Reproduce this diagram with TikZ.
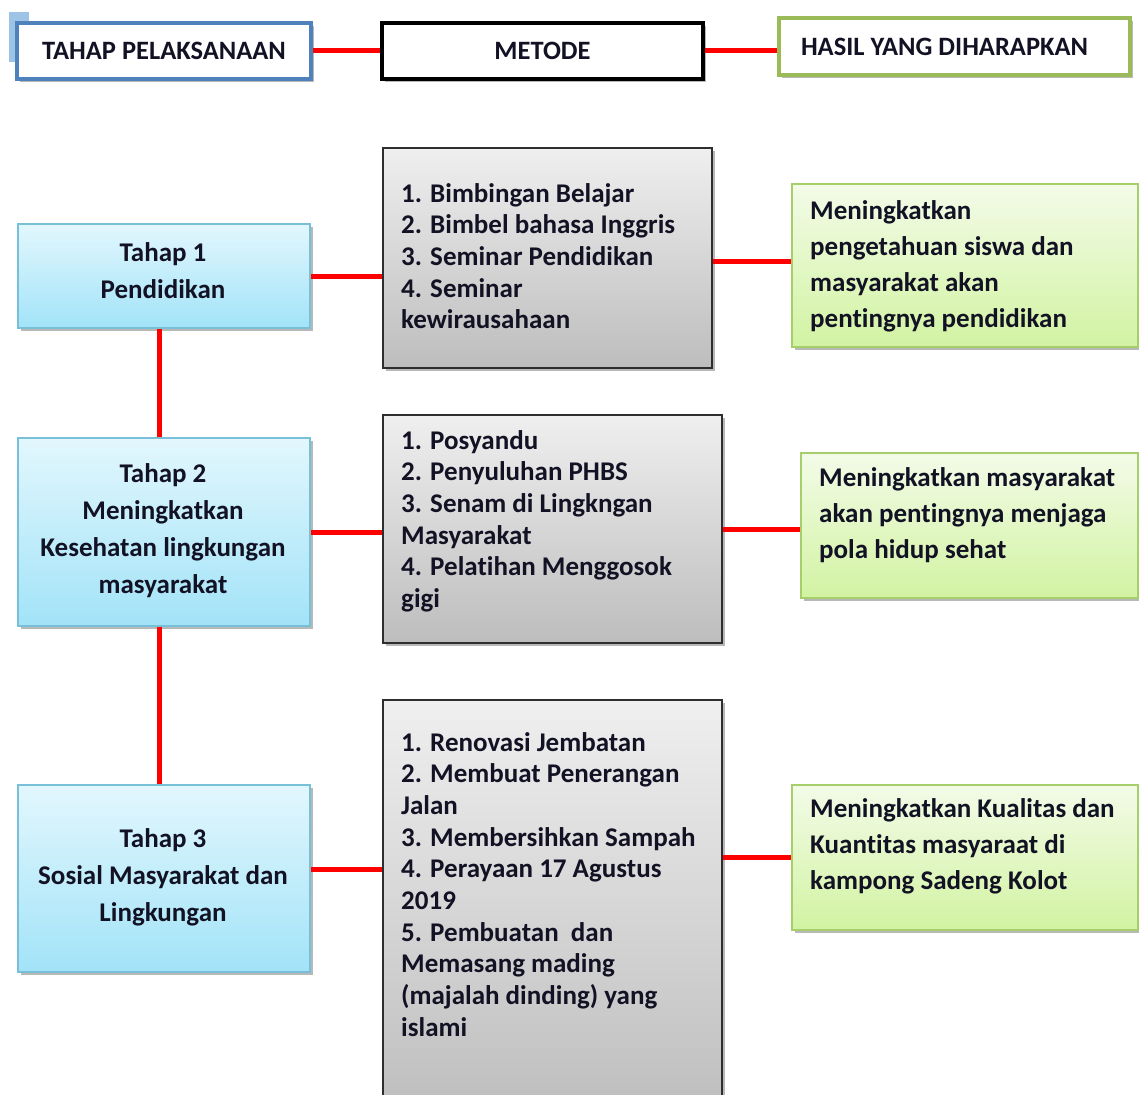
\documentclass[tikz,border=0pt]{standalone}
\usepackage{fontspec}
\setmainfont{Carlito}[Ligatures=NoCommon]
\usetikzlibrary{shadows,calc}
\definecolor{hblue}{HTML}{4F81BD}
\definecolor{hgreen}{HTML}{9BBB59}
\definecolor{sq}{HTML}{9DC3E6}
\definecolor{tTop}{HTML}{E2F7FD}
\definecolor{tBot}{HTML}{A2E3F8}
\definecolor{tLine}{HTML}{78C0D8}
\definecolor{mTop}{HTML}{EFEFEF}
\definecolor{mBot}{HTML}{BDBDBD}
\definecolor{mLine}{HTML}{2E2E2E}
\definecolor{rTop}{HTML}{F3FBE8}
\definecolor{rBot}{HTML}{D2F3A2}
\definecolor{rLine}{HTML}{A6CF6C}
\definecolor{ink}{HTML}{121224}
\definecolor{linkred}{HTML}{FF0000}
\begin{document}
\begin{tikzpicture}[x=1pt,y=-1pt,
  every node/.style={text=ink},
  boxshadow/.style={drop shadow={shadow xshift=3pt,shadow yshift=-3pt,opacity=0.28,fill=black}},
  head/.style={draw, line width=4.5pt, fill=white, inner sep=0pt, font=\fontsize{26.5}{30}\selectfont\bfseries, boxshadow},
  tahap/.style={draw=tLine, line width=1.2pt, top color=tTop, bottom color=tBot, inner sep=0pt, boxshadow},
  ttext/.style={anchor=base, align=center, inner sep=0pt, font=\fontsize{27}{37}\selectfont\bfseries},
  metode/.style={draw=mLine, line width=1.5pt, top color=mTop, bottom color=mBot, inner sep=0pt, boxshadow},
  hasil/.style={draw=rLine, line width=1.2pt, top color=rTop, bottom color=rBot, inner sep=0pt, boxshadow},
  mtext/.style={anchor=base west, align=left, inner sep=0pt, font=\fontsize{27}{31.7}\selectfont\bfseries},
  rtext/.style={anchor=base west, align=left, inner sep=0pt, font=\fontsize{27}{36}\selectfont\bfseries},
  link/.style={draw=linkred, line width=5pt}
]
\useasboundingbox (0,0) rectangle (1139,1094);
\fill[white] (0,0) rectangle (1139,1094);
% small marker square
\fill[sq] (9,12) rectangle (29,62);
% headers
\node[head, draw=hblue, minimum width=294pt, minimum height=56pt] (h1) at (164,51) {TAHAP PELAKSANAAN};
\node[head, draw=black, minimum width=321pt, minimum height=56pt] (h2) at (542.5,51) {METODE};
\node[head, draw=hgreen, minimum width=351pt, minimum height=57pt] (h3) at (954.5,46.5) {\makebox[342pt]{\hspace{17.5pt}HASIL YANG DIHARAPKAN\hfill}};
% tahap boxes
\node[tahap, minimum width=292pt, minimum height=104pt] (t1) at (164,276) {};
\node[tahap, minimum width=292pt, minimum height=188pt] (t2) at (164,532) {};
\node[tahap, minimum width=292pt, minimum height=187pt] (t3) at (164,878.5) {};
% metode boxes
\node[metode, minimum width=329pt, minimum height=220pt] (m1) at (547.5,258) {};
\node[metode, minimum width=339pt, minimum height=228pt] (m2) at (552.5,529) {};
\node[metode, minimum width=339pt, minimum height=420pt] (m3) at (552.5,910) {};
% hasil boxes
\node[hasil, minimum width=346pt, minimum height=163pt] (r1) at (965,265.5) {};
\node[hasil, minimum width=337pt, minimum height=145pt] (r2) at (969.5,525.5) {};
\node[hasil, minimum width=346pt, minimum height=145pt] (r3) at (965,857.5) {};
% texts (anchored at the baseline of their last line)
\node[ttext] (t1t) at (163,298) {Tahap 1\\Pendidikan};
\node[ttext] (t2t) at (163,593) {Tahap 2\\Meningkatkan\\Kesehatan lingkungan\\masyarakat};
\node[ttext] (t3t) at (163,921) {Tahap 3\\Sosial Masyarakat dan\\Lingkungan};
\node[mtext] (m1t) at (401,328.8) {1. Bimbingan Belajar\\2. Bimbel bahasa Inggris\\3. Seminar Pendidikan\\4. Seminar\\kewirausahaan};
\node[mtext] (m2t) at (401,607.5) {1. Posyandu\\2. Penyuluhan PHBS\\3. Senam di Lingkngan\\Masyarakat\\4. Pelatihan Menggosok\\gigi};
\node[mtext] (m3t) at (401,1036.3) {1. Renovasi Jembatan\\2. Membuat Penerangan\\Jalan\\3. Membersihkan Sampah\\4. Perayaan 17 Agustus\\2019\\5. Pembuatan~ dan\\Memasang mading\\(majalah dinding) yang\\islami};
\node[rtext] (r1t) at (810,327) {Meningkatkan\\pengetahuan siswa dan\\masyarakat akan\\pentingnya pendidikan};
\node[rtext] (r2t) at (819,558) {Meningkatkan masyarakat\\akan pentingnya menjaga\\pola hidup sehat};
\node[rtext] (r3t) at (810,889) {Meningkatkan Kualitas dan\\Kuantitas masyaraat di\\kampong Sadeng Kolot};
% connectors
\draw[link] (h1.east) -- (h2.west);
\draw[link] (h2.east) -- (h2.east -| h3.west);
\draw[link] (t1.east) -- (t1.east -| m1.west);
\draw[link] ([yshift=-3pt]m1.east) -- ([yshift=-3pt]m1.east -| r1.west);
\draw[link] (t2.east) -- (t2.east -| m2.west);
\draw[link] (m2.east) -- (m2.east -| r2.west);
\draw[link] ([yshift=9.5pt]t3.east) -- ([yshift=9.5pt]t3.east -| m3.west);
\draw[link] (r3.west -| m3.east) -- (r3.west);
\draw[link] ([xshift=-5pt]t1.south) -- ([xshift=-5pt]t1.south |- t2.north);
\draw[link] ([xshift=-5pt]t2.south) -- ([xshift=-5pt]t2.south |- t3.north);
\end{tikzpicture}
\end{document}
